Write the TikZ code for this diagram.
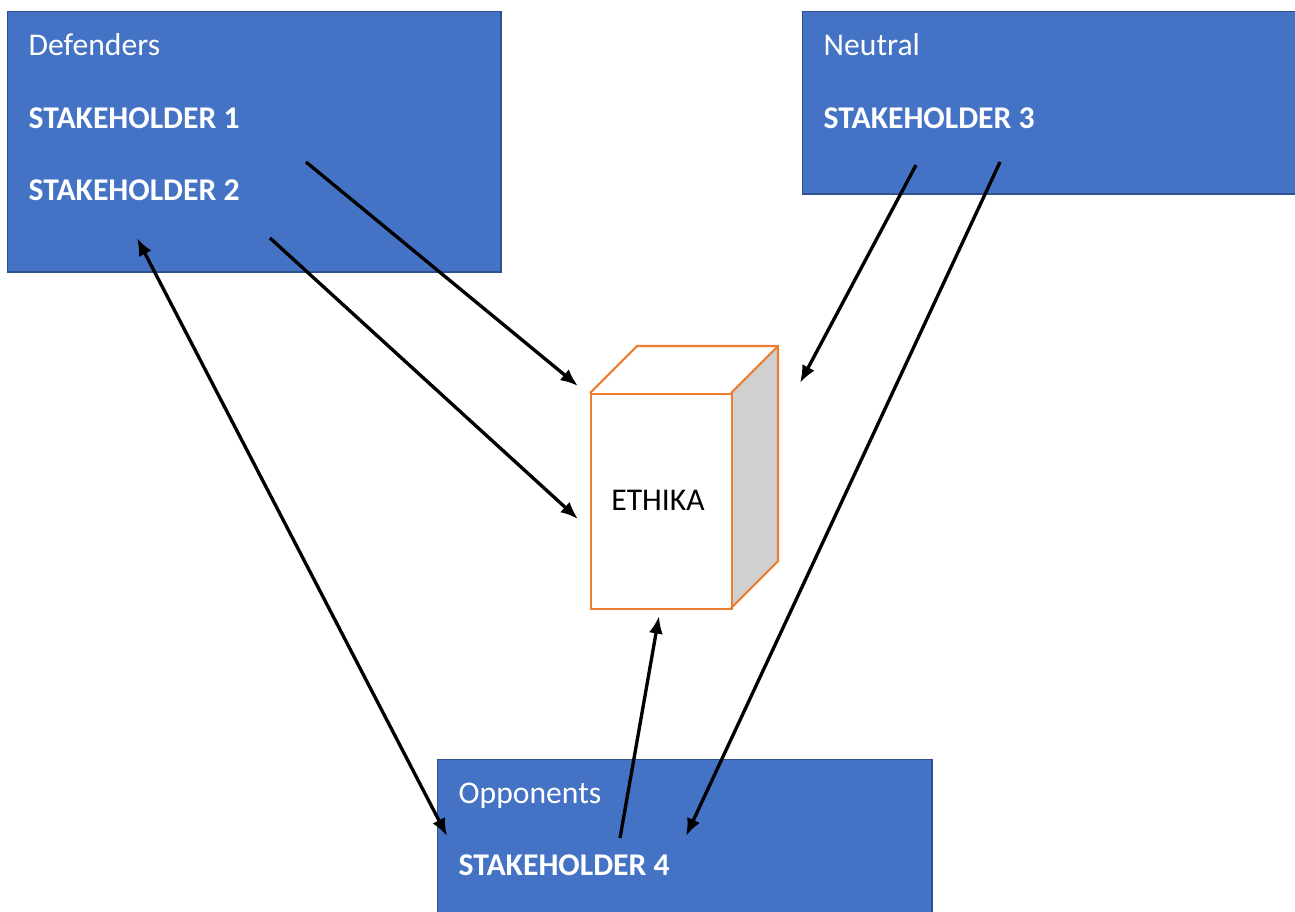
\documentclass[tikz,border=0pt]{standalone}
\usepackage{fontspec}
\setmainfont{Carlito}
\usepackage{tikz}
\usetikzlibrary{positioning}
\usetikzlibrary{arrows.meta}
\usepackage{xcolor}
\definecolor{boxblue}{HTML}{4472C4}
\definecolor{boxedge}{HTML}{2F528F}
\definecolor{cubeedge}{HTML}{ED7D31}
\definecolor{cubeside}{HTML}{D0D0D0}

\tikzset{
  group/.style={draw=boxedge, fill=boxblue, line width=0.4pt, anchor=north west, inner sep=0pt},
  grouptitle/.style={text=white, anchor=base west, inner sep=0pt, font=\fontsize{9}{11}\selectfont},
  holder/.style={text=white, anchor=base west, inner sep=0pt, font=\fontsize{9}{11}\selectfont\bfseries},
  link/.style={-{Latex[length=5pt,width=4pt]}, line width=0.95pt},
  twolink/.style={{Latex[length=5pt,width=4pt]}-{Latex[length=5pt,width=4pt]}, line width=0.95pt}
}

\begin{document}
\begin{tikzpicture}[x=0.01cm, y=-0.01cm]
            \useasboundingbox (0,0) rectangle (1295,911);
            \clip (0,0) rectangle (1295,911);

            % stakeholder groups
            \node[group, minimum width=4.93cm, minimum height=2.60cm] (defenders) at (7,11) {};
            \node[group, minimum width=5.00cm, minimum height=1.82cm] (neutral) at (802,11) {};
            \node[group, minimum width=4.94cm, minimum height=1.60cm] (opponents) at (437,759) {};

            \node[grouptitle] (deftitle) at (28,55) {Defenders};
            \node[holder] (sh1) at (28,128) {STAKEHOLDER 1};
            \node[holder] (sh2) at (28,200) {STAKEHOLDER 2};
            \node[grouptitle] (neutitle) at (823,55) {Neutral};
            \node[holder] (sh3) at (823,128) {STAKEHOLDER 3};
            \node[grouptitle] (opptitle) at (458,803) {Opponents};
            \node[holder] (sh4) at (458,875) {STAKEHOLDER 4};

            % ETHIKA cube
            \fill[white] (590,393) -- (637,346) -- (778,346) -- (731,393) -- cycle;
            \fill[cubeside] (731,393) -- (778,346) -- (778,561) -- (731,608) -- cycle;
            \node[draw=cubeedge, fill=white, line width=0.6pt, anchor=north west, minimum width=1.41cm, minimum height=2.15cm, inner sep=0pt] (ethika) at (590,393) {};
            \draw[cubeedge, line width=0.6pt, line join=miter] (590,393) -- (637,346) -- (778,346) -- (778,561) -- (731,608);
            \draw[cubeedge, line width=0.6pt] (731,393) -- (778,346);
            \node[font=\fontsize{9}{11}\selectfont, anchor=base] (ethikalabel) at (658,510) {ETHIKA};

            % connector ends
            \coordinate (s1out) at (306,162);
            \coordinate (s2out) at (270,238);
            \coordinate (s2low) at (137,238);
            \coordinate (s3out) at (916,165);
            \coordinate (s3far) at (1000,162);
            \coordinate (s4out) at (620,838);
            \coordinate (s4in) at (686,836);
            \coordinate (s4left) at (447,836);
            \coordinate (cubetop) at (578,386);
            \coordinate (cubemid) at (578,519);
            \coordinate (cuberight) at (800,383);
            \coordinate (cubebottom) at (659,616);

            \draw[link] (s1out) -- (cubetop);
            \draw[link] (s2out) -- (cubemid);
            \draw[link] (s3out) -- (cuberight);
            \draw[link] (s3far) -- (s4in);
            \draw[link] (s4out) -- (cubebottom);
            \draw[twolink] (s2low) -- (s4left);
\end{tikzpicture}
\end{document}
